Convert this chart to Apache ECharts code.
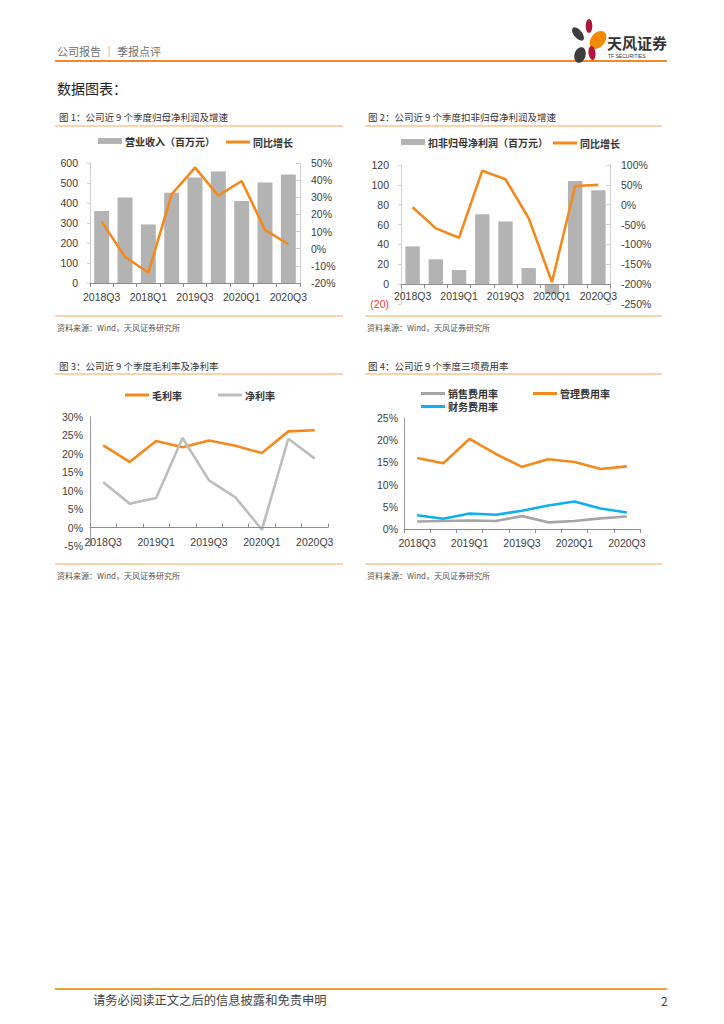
<!DOCTYPE html>
<html><head><meta charset="utf-8">
<script src="https://cdn.jsdelivr.net/npm/echarts@6/dist/echarts.min.js"></script>
<style>html,body{margin:0;padding:0;background:#fff}#c{width:724px;height:1024px}</style>
</head><body><div id="c"></div>
<script>
// ---- data ----
const quarters = ['2018Q3','2018Q4','2019Q1','2019Q2','2019Q3','2019Q4','2020Q1','2020Q2','2020Q3'];
const quarterLabels1 = ['2018Q3','2018Q4','2018Q1','2019Q2','2019Q3','2019Q4','2020Q1','2020Q2','2020Q3'];
const revenue = [360, 427, 293, 451, 527, 557, 410, 502, 542];
const revenueGrowth = [15.8, -4.7, -14, 31.7, 47.3, 31, 39.5, 11, 2.6];
const deductedProfit = [38, 25, 14.2, 70.3, 63.2, 16.2, -10, 103.8, 94.6];
const deductedGrowth = [-6.5, -59.5, -83, 85.7, 64, -34, -195, 47, 50];
const grossMargin = [22.3, 17.8, 23.5, 21.8, 23.6, 22.2, 20.2, 26.1, 26.4];
const netMargin = [12.3, 6.5, 8.0, 24.3, 12.8, 8.2, -0.6, 24.1, 18.7];
const sellingRate = [1.7, 1.8, 1.9, 1.8, 2.9, 1.5, 1.8, 2.4, 2.8];
const adminRate = [16.0, 14.8, 20.3, 16.9, 14.0, 15.7, 15.1, 13.5, 14.1];
const financeRate = [3.1, 2.3, 3.5, 3.2, 4.1, 5.3, 6.2, 4.6, 3.7];

const ORANGE = '#F28A1E', BARGRAY = '#B3B3B3', LGRAY = '#BDBDBD', BLUE = '#0FB0EE';
const AX = {fontFamily:'Liberation Sans, Arial', fontSize:10.5, color:'#404040'};
const CJK = 'Noto Sans CJK SC';

function catAxis(gi, labels, opt){
  return Object.assign({
    type:'category', gridIndex:gi, data:labels, boundaryGap:true, z:5,
    axisLine:{show:true, onZero:false, lineStyle:{color:'#8c8c8c', width:1}},
    axisTick:{show:true, interval:0, length:4, lineStyle:{color:'#8c8c8c'}},
    axisLabel:Object.assign({interval:1, margin:8}, AX),
    splitLine:{show:false}
  }, opt||{});
}
function valAxis(gi, min, max, interval, fmt, opt){
  return Object.assign({
    type:'value', gridIndex:gi, min:min, max:max, interval:interval,
    axisLine:{show:true, lineStyle:{color:'#cfcfcf'}},
    axisTick:{show:true, length:3, lineStyle:{color:'#cfcfcf'}},
    axisLabel:Object.assign({formatter:fmt, margin:10}, AX),
    splitLine:{show:false}
  }, opt||{});
}
function line(name, xi, yi, data, color){
  return {type:'line', name:name, xAxisIndex:xi, yAxisIndex:yi, data:data, symbol:'none',
    lineStyle:{color:color, width:2.6}, itemStyle:{color:color}, z:3};
}
function legend(left, top, name, h){
  return {left:left, top:top, padding:0, itemWidth:24, itemHeight:h, icon:'rect', itemGap:4,
    data:[name], selectedMode:false,
    textStyle:{fontFamily:CJK, fontSize:10, color:'#333', fontWeight:'bold', padding:[0,0,0,-2]}};
}
function txt(x, y, s, size, color, opt){
  return {type:'text', x:x, y:y, silent:true,
    style:{text:s, fill:color||'#333', font:(opt&&opt.weight?opt.weight+' ':'')+size+'px "'+CJK+'"', verticalAlign:'middle', align:(opt&&opt.align)||'left'}};
}
function hl(x1, x2, y, color, w){
  return {type:'line', silent:true, shape:{x1:x1, y1:y, x2:x2, y2:y}, style:{stroke:color, lineWidth:w||1}};
}
const SEP = '#F5A659';

const graphics = [
  txt(57, 51, '公司报告 ｜ 季报点评', 11, '#707070'),
  hl(55, 667, 61, '#F0892A', 2),
  // logo
  {type:'ellipse', x:578, y:34, rotation:0.7, shape:{cx:0, cy:0, rx:4, ry:8}, style:{fill:'#3d3d3d'}},
  {type:'ellipse', x:589, y:26, rotation:0, shape:{cx:0, cy:0, rx:3.3, ry:7}, style:{fill:'#B0173A'}},
  {type:'ellipse', x:598, y:40, rotation:-0.7, shape:{cx:0, cy:0, rx:7, ry:10}, style:{fill:'#F08A00'}},
  {type:'ellipse', x:580, y:55, rotation:-0.3, shape:{cx:0, cy:0, rx:5.5, ry:8}, style:{fill:'#3d3d3d'}},
  {type:'ellipse', x:592, y:53, rotation:0.1, shape:{cx:0, cy:0, rx:3.5, ry:7}, style:{fill:'#B0173A'}},
  txt(607, 42, '天风证券', 15, '#333', {weight:'bold'}),
  {type:'text', x:608, y:56, silent:true, style:{text:'TF SECURITIES', fill:'#333', font:'5px "Liberation Sans"', verticalAlign:'middle'}},
  txt(57, 88, '数据图表：', 14, '#222'),
  // chart titles and separators
  txt(59, 117, '图 1：公司近 9 个季度归母净利润及增速', 9.5, '#333'),
  txt(368, 117, '图 2：公司近 9 个季度扣非归母净利润及增速', 9.5, '#333'),
  hl(55, 343, 126, SEP, 1.2), hl(365, 662, 126, SEP, 1.2),
  hl(55, 343, 316, SEP, 1.2), hl(365, 662, 316, SEP, 1.2),
  txt(57, 327, '资料来源：Wind，天风证券研究所', 8, '#555'),
  txt(367, 327, '资料来源：Wind，天风证券研究所', 8, '#555'),
  txt(59, 366, '图 3：公司近 9 个季度毛利率及净利率', 9.5, '#333'),
  txt(368, 366, '图 4：公司近 9 个季度三项费用率', 9.5, '#333'),
  hl(55, 343, 374, SEP, 1.2), hl(365, 662, 374, SEP, 1.2),
  hl(55, 343, 564, SEP, 1.2), hl(365, 662, 564, SEP, 1.2),
  txt(57, 575, '资料来源：Wind，天风证券研究所', 8, '#555'),
  txt(367, 575, '资料来源：Wind，天风证券研究所', 8, '#555'),
  // footer
  hl(55, 667, 989, '#F0A030', 2),
  txt(93, 1000, '请务必阅读正文之后的信息披露和免责申明', 12.3, '#444'),
  txt(661, 1000, '2', 12, '#444')
];

const option = {
  backgroundColor:'#fff',
  animation:false,
  grid:[
    {left:90, top:163, width:210, height:120},
    {left:401, top:165, width:209, height:139},
    {left:90, top:417, width:238, height:129},
    {left:404, top:418, width:236, height:111}
  ],
  xAxis:[
    catAxis(0, quarterLabels1),
    catAxis(1, quarters, {axisLine:{show:true, onZero:true, onZeroAxisIndex:2, lineStyle:{color:'#8c8c8c'}}, axisLabel:Object.assign({interval:1, margin:-14}, AX)}),
    catAxis(2, quarters, {axisLine:{show:true, onZero:true, lineStyle:{color:'#8c8c8c'}}, axisTick:{show:true, inside:true, interval:0, length:4, lineStyle:{color:'#8c8c8c'}}, axisLabel:Object.assign({interval:1, margin:-10}, AX)}),
    catAxis(3, quarters, {axisLabel:Object.assign({interval:1, margin:8}, AX)})
  ],
  yAxis:[
    valAxis(0, 0, 600, 100, '{value}', {axisLabel:Object.assign({margin:12}, AX)}),
    valAxis(0, -20, 50, 10, '{value}%', {position:'right', axisTick:{show:true, inside:true, length:4, lineStyle:{color:'#cfcfcf'}}, axisLabel:Object.assign({formatter:'{value}%', margin:11}, AX)}),
    valAxis(1, -20, 120, 20, null, {axisLabel:Object.assign({margin:12, formatter:function(v){return v<0?'{neg|('+(-v)+')}':String(v);}, rich:{neg:{color:'#F03C3C', fontFamily:'Liberation Sans', fontSize:10.5}}}, AX)}),
    valAxis(1, -250, 100, 50, '{value}%', {position:'right', axisTick:{show:true, inside:true, length:4, lineStyle:{color:'#cfcfcf'}}, axisLabel:Object.assign({formatter:'{value}%', margin:11}, AX)}),
    valAxis(2, -5, 30, 5, '{value}%', {axisLine:{show:true, lineStyle:{color:'#9a9a9a'}}, axisTick:{show:false}, axisLabel:Object.assign({formatter:'{value}%', margin:7}, AX)}),
    valAxis(3, 0, 25, 5, '{value}%', {axisLine:{show:true, lineStyle:{color:'#9a9a9a'}}, axisTick:{show:false}, axisLabel:Object.assign({formatter:'{value}%', margin:6}, AX)})
  ],
  legend:[
    legend(98, 136, '营业收入（百万元）', 6),
    legend(226, 137, '同比增长', 3),
    legend(401, 137, '扣非归母净利润（百万元）', 6),
    legend(553, 138, '同比增长 ', 3),
    legend(125, 390, '毛利率', 3),
    legend(218, 390, '净利率', 3),
    legend(421, 388.5, '销售费用率', 3),
    legend(533, 388.5, '管理费用率', 3),
    legend(421, 401.5, '财务费用率', 3)
  ],
  series:[
    {type:'bar', name:'营业收入（百万元）', xAxisIndex:0, yAxisIndex:0, data:revenue, barWidth:'64%', itemStyle:{color:BARGRAY}},
    line('同比增长', 0, 1, revenueGrowth, ORANGE),
    {type:'bar', name:'扣非归母净利润（百万元）', xAxisIndex:1, yAxisIndex:2, data:deductedProfit, barWidth:'62%', itemStyle:{color:BARGRAY}},
    line('同比增长 ', 1, 3, deductedGrowth, ORANGE),
    line('毛利率', 2, 4, grossMargin, ORANGE),
    line('净利率', 2, 4, netMargin, LGRAY),
    line('销售费用率', 3, 5, sellingRate, '#A6A6A6'),
    line('管理费用率', 3, 5, adminRate, ORANGE),
    line('财务费用率', 3, 5, financeRate, BLUE)
  ],
  graphic:graphics
};
const chart = echarts.init(document.getElementById('c'), null, {renderer:'svg', width:724, height:1024});
chart.setOption(option);
</script>
</body></html>
